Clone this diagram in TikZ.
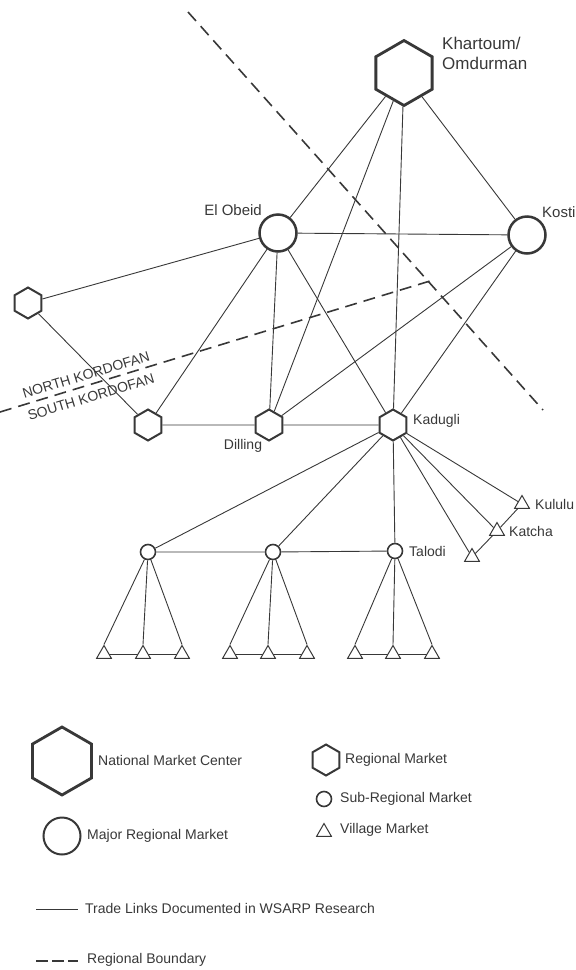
\documentclass[tikz,border=0pt]{standalone}
\usepackage{fontspec}
\setmainfont{Liberation Sans}
\usetikzlibrary{shapes.geometric}
\usetikzlibrary{positioning}

\definecolor{ink}{HTML}{383838}

\begin{document}
\begin{tikzpicture}[x=1pt,y=-1pt,
  link/.style={draw=ink,line width=0.9pt},
  bound/.style={draw=ink,line width=1.6pt,dash pattern=on 12pt off 7pt},
  natl/.style={regular polygon,regular polygon sides=6,rotate=30,draw=ink,line width=2.8pt,minimum size=65pt,inner sep=0pt,fill=white},
  major/.style={circle,draw=ink,line width=2.5pt,minimum size=37pt,inner sep=0pt,fill=white},
  regl/.style={regular polygon,regular polygon sides=6,rotate=30,draw=ink,line width=2pt,minimum size=31pt,inner sep=0pt,fill=white},
  subr/.style={circle,draw=ink,line width=1.6pt,minimum size=15pt,inner sep=0pt,fill=white},
  vill/.style={regular polygon,regular polygon sides=3,draw=ink,line width=1pt,minimum size=17pt,inner sep=0pt,fill=white},
  lbl/.style={font=\fontsize{14}{16}\selectfont,text=ink,inner sep=0pt},
  lgtxt/.style={font=\fontsize{14}{16}\selectfont,text=ink,inner sep=0pt,anchor=west}]
\useasboundingbox (0,0) rectangle (576,970);

% regional boundaries
\draw[bound] (188,12) -- (543,410);
\draw[bound] (0,412) -- (430,281);
\node[lbl,rotate=17] (north) at (86,375) {NORTH KORDOFAN};
\node[lbl,rotate=17] (south) at (91,397) {SOUTH KORDOFAN};

% markets
\node[natl] (khartoum) at (404,73) {};
\node[major] (elobeid) at (278,233) {};
\node[major] (kosti) at (527,235) {};
\node[regl] (nkhex) at (28,303) {};
\node[regl] (skhex) at (148,425) {};
\node[regl] (dilling) at (269,425) {};
\node[regl] (kadugli) at (393,425) {};
\node[subr] (sub1) at (148,552) {};
\node[subr] (sub2) at (273,552) {};
\node[subr] (talodi) at (395,551) {};
\node[vill] (kululu) at (522,504) {};
\node[vill] (katcha) at (497,531) {};
\node[vill] (vil0) at (472,557) {};
\foreach \i/\x in {11/104,12/143,13/182,21/230,22/268,23/307,31/355,32/393,33/432}
  \node[vill] (vil\i) at (\x,654) {};

% names
\node[lbl,font=\fontsize{17}{20}\selectfont,align=left,anchor=north west] (khlbl) at (442,37) {Khartoum/\\Omdurman};
\node[lbl,font=\fontsize{15}{17}\selectfont,anchor=east] (eolbl) at (262,210) {El Obeid};
\node[lbl,font=\fontsize{15}{17}\selectfont,anchor=west] (kolbl) at (542,212) {Kosti};
\node[lbl] (dilbl) at (243,446) {Dilling};
\node[lbl,anchor=west] (kalbl) at (413,421) {Kadugli};
\node[lbl,anchor=west] (talbl) at (409,551) {Talodi};
\node[lbl,anchor=west] (kulbl) at (535,504) {Kululu};
\node[lbl,anchor=west] (kclbl) at (509,531) {Katcha};

% trade links
\draw[link] (khartoum) -- (elobeid);
\draw[link] (khartoum) -- (dilling);
\draw[link] (khartoum) -- (kadugli);
\draw[link] (khartoum) -- (kosti);
\draw[link] (elobeid) -- (kosti);
\draw[link] (elobeid) -- (nkhex);
\draw[link] (elobeid) -- (skhex);
\draw[link] (elobeid) -- (dilling);
\draw[link] (elobeid) -- (kadugli);
\draw[link] (kosti) -- (dilling);
\draw[link] (kosti) -- (kadugli);
\draw[link] (nkhex) -- (skhex);
\draw[link] (skhex) -- (dilling) -- (kadugli);
\foreach \t in {sub1,sub2,talodi,kululu,katcha,vil0}
  \draw[link] (kadugli) -- (\t);
\draw[link] (vil0) -- (katcha) -- (kululu);
\draw[link] (sub1) -- (sub2) -- (talodi);
\foreach \s/\g in {sub1/1,sub2/2,talodi/3}{
  \foreach \k in {1,2,3}
    \draw[link] (\s) -- (vil\g\k.corner 1);
  \draw[link] (vil\g1) -- (vil\g2) -- (vil\g3);
}

% legend
\node[natl,minimum size=68pt] (lgnatl) at (62,761) {};
\node[lgtxt] (lgnatltxt) at (98,760) {National Market Center};
\node[major,line width=2pt,minimum size=37pt] (lgmajor) at (62,836) {};
\node[lgtxt] (lgmajortxt) at (87,836) {Major Regional Market};
\node[regl] (lgregl) at (326,760) {};
\node[lgtxt] (lgregltxt) at (345,760) {Regional Market};
\node[subr] (lgsubr) at (324,799) {};
\node[lgtxt] (lgsubrtxt) at (340,799) {Sub-Regional Market};
\node[vill] (lgvill) at (324,832) {};
\node[lgtxt] (lgvilltxt) at (340,830) {Village Market};
\coordinate (lglinka) at (36,909);
\coordinate (lglinkb) at (78,909);
\draw[link] (lglinka) -- (lglinkb);
\node[lgtxt] (lglinktxt) at (85,908) {Trade Links Documented in WSARP Research};
\coordinate (lgbounda) at (36,961);
\coordinate (lgboundb) at (78,961);
\draw[bound,dash pattern=on 12pt off 4pt] (lgbounda) -- (lgboundb);
\node[lgtxt] (lgboundtxt) at (87,960) {Regional Boundary};

\end{tikzpicture}
\end{document}
